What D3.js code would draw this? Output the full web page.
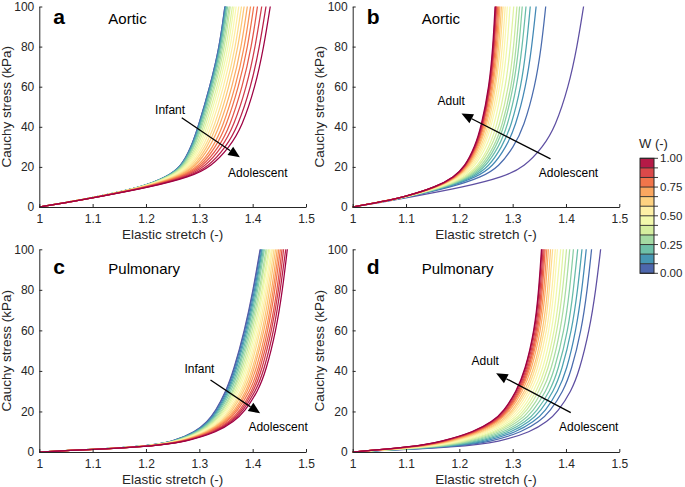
<!DOCTYPE html>
<html><head><meta charset="utf-8">
<script src="https://cdn.jsdelivr.net/npm/d3@7"></script>
<style>
body{margin:0;background:#fff}
svg{display:block}
text{font-family:"Liberation Sans",Arial,Helvetica,sans-serif;fill:#262626}
</style>
</head><body><svg id="chart" width="685" height="487"></svg>
<script>
// ---------------- DATA ----------------
const stressLevels = [0, 2.5, 5, 10, 15, 20, 30, 40, 60, 80, 100]; // kPa
const wValues = [0,0.05,0.1,0.15,0.2,0.25,0.3,0.35,0.4,0.45,0.5,0.55,0.6,0.65,0.7,0.75,0.8,0.85,0.9,0.95,1];
const xTicks = [1, 1.1, 1.2, 1.3, 1.4, 1.5];
const xTickLabels = ["1", "1.1", "1.2", "1.3", "1.4", "1.5"];
const yTicks = [0, 20, 40, 60, 80, 100];
const cbTicks = [0, 0.25, 0.5, 0.75, 1];
const cbTickLabels = ["0.00", "0.25", "0.50", "0.75", "1.00"];
const cbBands = 12;
const panelLetters = ["a", "b", "c", "d"];
const panelTitles = ["Aortic", "Aortic", "Pulmonary", "Pulmonary"];

// Elastic stretch of each curve (one column per W) at each stress level (one row per level)
const ones = [1,1,1,1,1,1,1,1,1,1,1,1,1,1,1,1,1,1,1,1,1];
const stretchAorticInfant = [ // panel a: infant (W=0) -> adolescent (W=1)
  ones,
  [1.056,1.056,1.056,1.056,1.056,1.056,1.056,1.056,1.056,1.056,1.056,1.056,1.056,1.056,1.056,1.057,1.057,1.057,1.057,1.057,1.057],
  [1.107,1.107,1.107,1.107,1.107,1.107,1.107,1.107,1.107,1.108,1.108,1.108,1.108,1.108,1.108,1.109,1.109,1.109,1.109,1.110,1.110],
  [1.195,1.195,1.195,1.195,1.196,1.196,1.196,1.197,1.197,1.198,1.199,1.200,1.200,1.201,1.202,1.203,1.205,1.206,1.207,1.209,1.210],
  [1.239,1.239,1.239,1.240,1.241,1.242,1.243,1.244,1.246,1.248,1.250,1.252,1.255,1.258,1.261,1.264,1.267,1.271,1.275,1.279,1.283],
  [1.266,1.266,1.267,1.267,1.268,1.270,1.271,1.273,1.275,1.277,1.280,1.283,1.286,1.290,1.293,1.298,1.302,1.306,1.311,1.317,1.322],
  [1.285,1.285,1.286,1.287,1.288,1.290,1.291,1.294,1.297,1.300,1.303,1.307,1.311,1.315,1.320,1.326,1.331,1.337,1.343,1.350,1.357],
  [1.298,1.298,1.299,1.300,1.301,1.303,1.305,1.308,1.311,1.315,1.319,1.323,1.328,1.333,1.338,1.344,1.350,1.357,1.364,1.372,1.380],
  [1.320,1.320,1.321,1.322,1.323,1.325,1.328,1.330,1.334,1.337,1.341,1.346,1.351,1.356,1.362,1.368,1.374,1.381,1.389,1.397,1.405],
  [1.338,1.338,1.339,1.340,1.341,1.343,1.345,1.348,1.351,1.355,1.359,1.363,1.368,1.373,1.379,1.385,1.391,1.398,1.405,1.413,1.421],
  [1.348,1.348,1.349,1.350,1.351,1.353,1.356,1.358,1.362,1.365,1.369,1.374,1.379,1.384,1.390,1.396,1.402,1.409,1.417,1.425,1.433]
];
const stretchAorticAdult = [ // panel b: adolescent (W=0) -> adult (W=1)
  ones,
  [1.057,1.055,1.054,1.054,1.054,1.054,1.053,1.053,1.053,1.053,1.053,1.053,1.052,1.052,1.052,1.052,1.052,1.052,1.052,1.052,1.052],
  [1.110,1.104,1.103,1.102,1.102,1.101,1.101,1.100,1.100,1.099,1.099,1.099,1.098,1.098,1.098,1.098,1.097,1.097,1.097,1.097,1.097],
  [1.210,1.187,1.181,1.178,1.176,1.173,1.172,1.170,1.168,1.166,1.164,1.163,1.162,1.161,1.160,1.159,1.159,1.158,1.158,1.157,1.157],
  [1.283,1.243,1.233,1.227,1.223,1.219,1.216,1.213,1.210,1.206,1.203,1.201,1.198,1.197,1.195,1.194,1.193,1.192,1.191,1.190,1.190],
  [1.322,1.274,1.262,1.255,1.249,1.245,1.241,1.237,1.234,1.229,1.226,1.223,1.220,1.218,1.216,1.215,1.213,1.212,1.211,1.211,1.210],
  [1.357,1.302,1.288,1.280,1.274,1.269,1.265,1.260,1.256,1.251,1.247,1.244,1.241,1.238,1.236,1.234,1.233,1.232,1.231,1.230,1.229],
  [1.380,1.321,1.305,1.297,1.290,1.284,1.280,1.275,1.270,1.265,1.260,1.257,1.254,1.251,1.249,1.247,1.245,1.244,1.243,1.242,1.241],
  [1.405,1.342,1.325,1.316,1.308,1.302,1.298,1.293,1.287,1.281,1.277,1.273,1.269,1.267,1.264,1.262,1.260,1.259,1.258,1.257,1.256],
  [1.421,1.354,1.336,1.326,1.318,1.312,1.307,1.302,1.296,1.290,1.285,1.281,1.277,1.274,1.272,1.270,1.268,1.266,1.265,1.264,1.263],
  [1.433,1.362,1.344,1.333,1.325,1.318,1.313,1.308,1.302,1.295,1.290,1.286,1.282,1.279,1.276,1.274,1.272,1.270,1.269,1.268,1.267]
];
const stretchPulmInfant = [ // panel c: infant (W=0) -> adolescent (W=1)
  ones,
  [1.195,1.195,1.196,1.196,1.196,1.197,1.197,1.198,1.198,1.199,1.199,1.200,1.200,1.201,1.201,1.202,1.202,1.203,1.204,1.204,1.205],
  [1.250,1.251,1.251,1.252,1.253,1.254,1.255,1.256,1.258,1.259,1.260,1.262,1.263,1.264,1.266,1.267,1.269,1.270,1.272,1.273,1.275],
  [1.293,1.294,1.295,1.297,1.298,1.300,1.302,1.304,1.306,1.308,1.310,1.312,1.315,1.317,1.319,1.322,1.324,1.327,1.330,1.332,1.335],
  [1.315,1.316,1.318,1.319,1.321,1.323,1.325,1.328,1.330,1.333,1.335,1.338,1.341,1.344,1.346,1.349,1.352,1.356,1.359,1.362,1.365],
  [1.330,1.331,1.333,1.335,1.337,1.339,1.342,1.344,1.347,1.349,1.352,1.355,1.358,1.361,1.365,1.368,1.371,1.375,1.378,1.381,1.385],
  [1.350,1.351,1.353,1.355,1.357,1.360,1.363,1.365,1.368,1.371,1.374,1.378,1.381,1.384,1.388,1.391,1.395,1.399,1.402,1.406,1.410],
  [1.364,1.365,1.367,1.369,1.372,1.374,1.377,1.380,1.383,1.386,1.389,1.392,1.395,1.399,1.402,1.406,1.410,1.413,1.417,1.421,1.425],
  [1.385,1.386,1.388,1.390,1.392,1.395,1.397,1.400,1.403,1.406,1.409,1.412,1.415,1.419,1.422,1.426,1.429,1.433,1.436,1.440,1.444],
  [1.401,1.402,1.404,1.406,1.408,1.410,1.413,1.415,1.418,1.420,1.423,1.426,1.429,1.432,1.436,1.439,1.442,1.446,1.449,1.452,1.456],
  [1.414,1.415,1.417,1.418,1.420,1.422,1.425,1.427,1.430,1.432,1.435,1.437,1.440,1.443,1.446,1.449,1.452,1.455,1.458,1.462,1.465]
];
const stretchPulmAdult = [ // panel d: adolescent (W=0) -> adult (W=1)
  ones,
  [1.205,1.191,1.182,1.175,1.168,1.161,1.156,1.150,1.145,1.140,1.136,1.132,1.128,1.125,1.121,1.119,1.116,1.114,1.112,1.111,1.110],
  [1.275,1.259,1.249,1.240,1.232,1.224,1.218,1.211,1.206,1.200,1.195,1.190,1.186,1.182,1.178,1.175,1.172,1.170,1.168,1.166,1.165],
  [1.335,1.319,1.309,1.301,1.293,1.286,1.279,1.273,1.268,1.262,1.257,1.253,1.248,1.245,1.241,1.238,1.235,1.233,1.231,1.229,1.228],
  [1.365,1.350,1.340,1.332,1.325,1.318,1.311,1.305,1.300,1.295,1.290,1.286,1.282,1.278,1.274,1.271,1.269,1.267,1.265,1.263,1.262],
  [1.385,1.370,1.361,1.352,1.345,1.338,1.332,1.326,1.321,1.316,1.311,1.306,1.302,1.299,1.295,1.292,1.290,1.288,1.286,1.284,1.283],
  [1.410,1.395,1.385,1.377,1.370,1.363,1.356,1.350,1.345,1.340,1.335,1.331,1.327,1.323,1.319,1.316,1.314,1.312,1.310,1.308,1.307],
  [1.425,1.410,1.401,1.392,1.385,1.378,1.372,1.366,1.361,1.356,1.351,1.346,1.342,1.339,1.335,1.332,1.330,1.328,1.326,1.324,1.323],
  [1.444,1.429,1.419,1.411,1.404,1.397,1.390,1.384,1.379,1.374,1.369,1.365,1.361,1.357,1.353,1.350,1.348,1.346,1.344,1.342,1.341],
  [1.456,1.440,1.430,1.422,1.414,1.407,1.400,1.394,1.389,1.383,1.378,1.374,1.369,1.366,1.362,1.359,1.356,1.354,1.352,1.350,1.349],
  [1.465,1.448,1.438,1.430,1.422,1.414,1.407,1.401,1.395,1.390,1.384,1.380,1.375,1.371,1.367,1.364,1.361,1.359,1.357,1.355,1.354]
];

// Annotation anchors in data units [stretch, stress]
const annotationTexts = [["Infant","Adolescent"],["Adult","Adolescent"],["Infant","Adolescent"],["Adult","Adolescent"]];
const annotationTextPos = [[[1.217,46.5],[1.354,14.8]],[[1.159,50.7],[1.349,14.8]],[[1.272,38.9],[1.392,10.3]],[[1.223,42.9],[1.387,10.3]]];
const arrowFrom = [[1.267,44.5],[1.371,24.0],[1.321,35.5],[1.409,19.4]];
const arrowTo   = [[1.376,24.8],[1.204,46.6],[1.414,19.1],[1.269,38.8]];

// ---------------- LAYOUT ----------------
const panelData = [stretchAorticInfant, stretchAorticAdult, stretchPulmInfant, stretchPulmAdult];
const panelBoxes = [
  {left:39.3, top:6.5, right:306, bottom:207},
  {left:352.7, top:6.5, right:619.3, bottom:207},
  {left:39.3, top:249.3, right:306, bottom:452},
  {left:352.7, top:249.3, right:619.3, bottom:452}
];
const letterBaseline = [23.5, 23.5, 273.5, 273.5];
const axisColor = "#262626";
const colorOf = w => d3.interpolateSpectral(1 - w);

const svg = d3.select("#chart");

panelData.forEach((rows, p) => {
  const box = panelBoxes[p];
  const x = d3.scaleLinear().domain([1, 1.5]).range([box.left, box.right]);
  const y = d3.scaleLinear().domain([0, 100]).range([box.bottom, box.top]);
  const g = svg.append("g");

  // curves
  const line = d3.line().x(d => x(d[0])).y(d => y(d[1])).curve(d3.curveBasis);
  const curves = wValues.map((w, i) => ({w, pts: stressLevels.map((s, k) => [rows[k][i], s])}));
  g.append("g").selectAll("path").data(curves).join("path")
    .attr("d", d => line(d.pts))
    .attr("fill", "none")
    .attr("stroke", d => colorOf(d.w))
    .attr("stroke-width", 1.25);

  // axes (ticks pointing inward)
  const xAxis = d3.axisBottom(x).tickValues(xTicks).tickFormat((d, i) => xTickLabels[i])
    .tickSizeInner(-3).tickSizeOuter(0).tickPadding(6);
  const yAxis = d3.axisLeft(y).tickValues(yTicks).tickSizeInner(-3).tickSizeOuter(0).tickPadding(5);
  const gx = g.append("g").attr("transform", `translate(0,${box.bottom})`).call(xAxis);
  const gy = g.append("g").attr("transform", `translate(${box.left},0)`).call(yAxis);
  [gx, gy].forEach(a => {
    a.select(".domain").attr("stroke", axisColor).attr("stroke-width", 1);
    a.selectAll(".tick line").attr("stroke", axisColor).attr("stroke-width", 1);
    a.selectAll(".tick text").attr("fill", axisColor).style("font-size", "12px")
      .style("font-family", '"Liberation Sans",Arial,Helvetica,sans-serif');
  });
  gx.selectAll(".tick text").attr("dy", "0.85em");

  // axis titles
  g.append("text").attr("x", (box.left + box.right) / 2).attr("y", box.bottom + 32)
    .attr("text-anchor", "middle").style("font-size", "13.5px").text("Elastic stretch (-)");
  g.append("text").attr("transform", `translate(${box.left - 28.5},${(box.top + box.bottom) / 2}) rotate(-90)`)
    .attr("text-anchor", "middle").style("font-size", "13.5px").text("Cauchy stress (kPa)");

  // panel letter and title
  g.append("text").attr("x", box.left + 14).attr("y", letterBaseline[p])
    .style("font-size", "21px").style("font-weight", "bold").style("fill", "#000").text(panelLetters[p]);
  g.append("text").attr("x", box.left + 69).attr("y", letterBaseline[p])
    .style("font-size", "15px").style("fill", "#000").text(panelTitles[p]);

  // annotations
  annotationTexts[p].forEach((t, j) => {
    const pos = annotationTextPos[p][j];
    g.append("text").attr("x", x(pos[0])).attr("y", y(pos[1]))
      .style("font-size", "12px").style("fill", "#000").text(t);
  });
  const x0 = x(arrowFrom[p][0]), y0 = y(arrowFrom[p][1]);
  const x1 = x(arrowTo[p][0]), y1 = y(arrowTo[p][1]);
  const ang = Math.atan2(y1 - y0, x1 - x0);
  const headLen = 11.5, headHalf = 5;
  const bx = x1 - headLen * Math.cos(ang), by = y1 - headLen * Math.sin(ang);
  g.append("line").attr("x1", x0).attr("y1", y0).attr("x2", bx).attr("y2", by)
    .attr("stroke", "#000").attr("stroke-width", 1.3);
  g.append("path")
    .attr("d", `M${x1},${y1}L${bx + headHalf * Math.sin(ang)},${by - headHalf * Math.cos(ang)}L${bx - headHalf * Math.sin(ang)},${by + headHalf * Math.cos(ang)}Z`)
    .attr("fill", "#000");
});

// ---------------- COLORBAR ----------------
const cb = {left: 640, right: 654, top: 158.3, bottom: 273.3};
const cy = d3.scaleLinear().domain([0, 1]).range([cb.bottom, cb.top]);
const gcb = svg.append("g");
const bands = d3.range(cbBands).map(j => ({lo: j / cbBands, hi: (j + 1) / cbBands, c: colorOf((j + 0.5) / cbBands)}));
gcb.selectAll("rect.band").data(bands).join("rect").attr("class", "band")
  .attr("x", cb.left).attr("width", cb.right - cb.left)
  .attr("y", d => cy(d.hi)).attr("height", d => cy(d.lo) - cy(d.hi))
  .attr("fill", d => d.c);
gcb.selectAll("line.minor").data(d3.range(cbBands + 1).map(j => j / cbBands)).join("line").attr("class", "minor")
  .attr("x1", cb.left).attr("x2", cb.right + 4)
  .attr("y1", d => cy(d)).attr("y2", d => cy(d))
  .attr("stroke", axisColor).attr("stroke-width", 0.9);
gcb.append("rect").attr("x", cb.left).attr("y", cb.top).attr("width", cb.right - cb.left).attr("height", cb.bottom - cb.top)
  .attr("fill", "none").attr("stroke", axisColor).attr("stroke-width", 1);
gcb.selectAll("text.lab").data(cbTicks).join("text").attr("class", "lab")
  .attr("x", cb.right + 6).attr("y", d => cy(d)).attr("dy", "0.35em")
  .style("font-size", "11.5px").text((d, i) => cbTickLabels[i]);
gcb.append("text").attr("x", 639).attr("y", 148).style("font-size", "13px").text("W (-)");
</script>
</body></html>
